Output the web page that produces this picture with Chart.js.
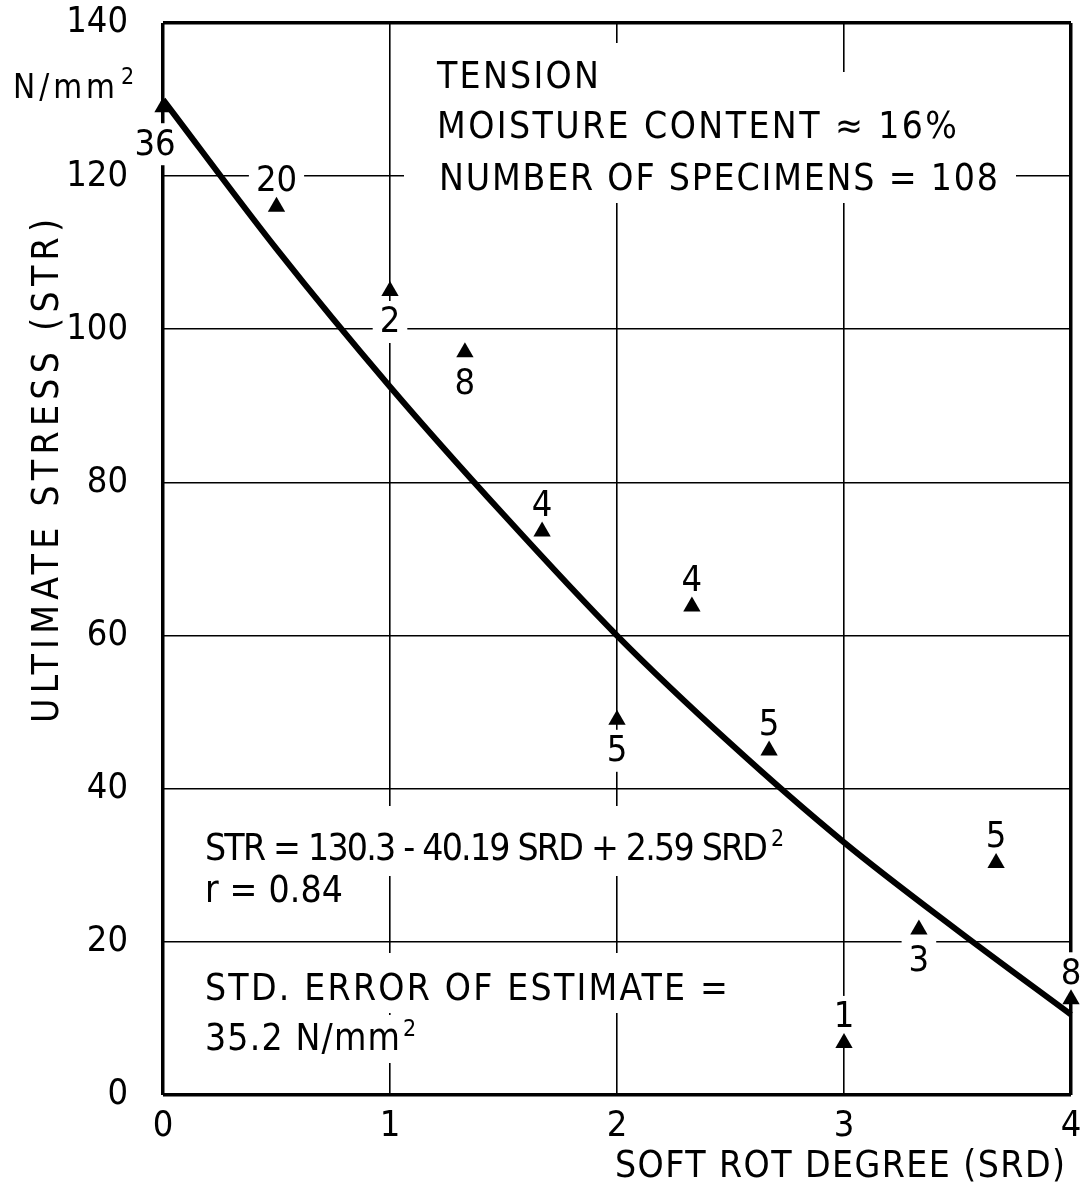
<!DOCTYPE html>
<html lang="en">
<head>
    <meta charset="UTF-8">
    <title>Soft rot - tension</title>
    <script src="https://cdn.jsdelivr.net/npm/chart.js"></script>
    <style>
        body { margin: 0; background: #fff; }
    </style>
</head>
<body>
    <canvas id="chart" width="1084" height="1188"></canvas>
    <script>
        // observed means (triangles)
        const srdObs = [0, 0.5, 1, 1.33, 1.67, 2, 2.33, 2.67, 3, 3.33, 3.67, 4];
        const strObs = [129, 116, 105, 97, 73.6, 49, 63.8, 45, 6.8, 21.6, 30.3, 12.5];
        const specimenCounts = ['36', '20', '2', '8', '4', '5', '4', '5', '1', '3', '5', '8'];
        // where the count sits relative to its triangle
        const countSide = ['belowLeft', 'above', 'below', 'below', 'above', 'below', 'above', 'above', 'above', 'below', 'above', 'above'];

        // fitted curve
        const srdFit = [0, 0.5, 1, 1.5, 2, 2.5, 3, 3.5, 4];
        const strFit = [130, 110.5, 92.5, 75.8, 60, 45.9, 33, 21.5, 10.5];

        const xTicks = [0, 1, 2, 3, 4];
        const yTicks = [0, 20, 40, 60, 80, 100, 120, 140];

        const noteText = [
            ['TENSION'],
            ['MOISTURE CONTENT \u2248 16%'],
            ['NUMBER OF SPECIMENS = 108'],
            ['STR = 130.3 - 40.19 SRD + 2.59 SRD', '2'],
            ['r = 0.84'],
            ['STD. ERROR OF ESTIMATE ='],
            ['35.2 N/mm', '2']
        ];

        const FONT = '"DejaVu Sans Condensed", "DejaVu Sans", sans-serif';

        // layout of the notes: text x, baseline, width, white box [x0, y0, x1, y1]
        const noteLayout = [
            { x: 437, base: 88, w: 162, box: [420, 43, 625, 100] },
            { x: 437, base: 138, w: 520, box: [420, 72, 975, 152] },
            { x: 439, base: 190, w: 559, box: [404, 152, 1016, 203] },
            { x: 205, base: 860, w: 563, box: [195, 806, 800, 876] },
            { x: 205, base: 902, w: 138, box: [195, 876, 355, 915] },
            { x: 205, base: 1000, w: 523, box: [195, 953, 740, 1013] },
            { x: 205, base: 1050, w: 195, box: [195, 1015, 430, 1063] }
        ];
        const sideOffset = { above: [0, -26], below: [0, 31], belowLeft: [-8, 37] };

        function spacedText(ctx, str, x, base, width) {
            ctx.letterSpacing = '0px';
            const w = ctx.measureText(str).width;
            const n = [...str].length;
            ctx.letterSpacing = (n > 1 ? (width - w) / (n - 1) : 0) + 'px';
            ctx.fillText(str, x, base);
            ctx.letterSpacing = '0px';
            return x + width;
        }

        const overlay = {
            id: 'overlay',
            beforeDatasetsDraw(chart) {
                const ctx = chart.ctx;
                const xs = chart.scales.x, ys = chart.scales.y;
                ctx.save();
                ctx.fillStyle = '#fff';
                noteLayout.forEach(n => ctx.fillRect(n.box[0], n.box[1], n.box[2] - n.box[0], n.box[3] - n.box[1]));

                // the notes
                ctx.fillStyle = '#000';
                ctx.textAlign = 'left';
                ctx.textBaseline = 'alphabetic';
                noteText.forEach((t, i) => {
                    const L = noteLayout[i];
                    ctx.font = '37px ' + FONT;
                    const end = spacedText(ctx, t[0], L.x, L.base, L.w);
                    if (t[1]) {
                        ctx.font = '23px ' + FONT;
                        ctx.fillText(t[1], end + 3, L.base - 14);
                    }
                });

                // specimen counts, knocking out the grid behind them
                ctx.font = '36px ' + FONT;
                ctx.textAlign = 'center';
                ctx.textBaseline = 'middle';
                specimenCounts.forEach((c, i) => {
                    const off = sideOffset[countSide[i]];
                    const px = xs.getPixelForValue(srdObs[i]) + off[0];
                    const py = ys.getPixelForValue(strObs[i]) + off[1];
                    const w = ctx.measureText(c).width + 14;
                    ctx.fillStyle = '#fff';
                    ctx.fillRect(px - w / 2, py - 21, w, 42);
                    ctx.fillStyle = '#000';
                    ctx.fillText(c, px, py + 1);
                });
                ctx.restore();
            },
            afterDraw(chart) {
                const ctx = chart.ctx;
                ctx.save();
                ctx.fillStyle = '#000';
                ctx.textAlign = 'left';
                ctx.textBaseline = 'alphabetic';
                // unit at top of y axis
                ctx.font = '33px ' + FONT;
                const e = spacedText(ctx, 'N/mm', 13, 98, 102);
                ctx.font = '23px ' + FONT;
                ctx.fillText('2', e + 6, 84);
                // x axis title
                ctx.font = '37px ' + FONT;
                spacedText(ctx, 'SOFT ROT DEGREE (SRD)', 615, 1177, 450);
                // y axis title
                ctx.translate(58, 723);
                ctx.rotate(-Math.PI / 2);
                spacedText(ctx, 'ULTIMATE STRESS (STR)', 0, 0, 504);
                ctx.restore();
            }
        };

        const edge = (v, lo, hi) => (v === lo || v === hi) ? 3.5 : 1.6;
        const noPad = s => { s.paddingTop = 0; s.paddingBottom = 0; s.paddingLeft = 0; s.paddingRight = 0; };

        new Chart(document.getElementById('chart').getContext('2d'), {
            type: 'scatter',
            data: {
                datasets: [{
                    label: 'fit',
                    data: srdFit.map((v, i) => ({ x: v, y: strFit[i] })),
                    showLine: true,
                    borderColor: '#000',
                    borderWidth: 6,
                    pointRadius: 0,
                    cubicInterpolationMode: 'monotone',
                    clip: false,
                    order: 2
                }, {
                    label: 'observed',
                    data: srdObs.map((v, i) => ({ x: v, y: strObs[i] })),
                    pointStyle: 'triangle',
                    pointRadius: 10,
                    backgroundColor: '#000',
                    borderColor: '#000',
                    borderWidth: 0,
                    clip: false,
                    order: 1
                }]
            },
            options: {
                responsive: false,
                animation: false,
                devicePixelRatio: 1,
                layout: { padding: { top: 23, right: 13, left: 0, bottom: 0 } },
                plugins: { legend: { display: false }, tooltip: { enabled: false } },
                scales: {
                    x: {
                        type: 'linear', min: 0, max: 4,
                        afterBuildTicks: s => { s.ticks = xTicks.map(v => ({ value: v })); },
                        afterFit: s => { s.height = 93; noPad(s); },
                        border: { display: false },
                        grid: { color: '#000', drawTicks: false, lineWidth: c => edge(c.tick.value, 0, 4) },
                        ticks: { color: '#000', font: { family: FONT, size: 36 }, padding: 10, maxRotation: 0 }
                    },
                    y: {
                        min: 0, max: 140,
                        afterBuildTicks: s => { s.ticks = yTicks.map(v => ({ value: v })); },
                        afterFit: s => { s.width = 163; noPad(s); },
                        border: { display: false },
                        grid: { color: '#000', drawTicks: false, lineWidth: c => edge(c.tick.value, 0, 140) },
                        ticks: { color: '#000', font: { family: FONT, size: 36 }, padding: 35 }
                    }
                }
            },
            plugins: [overlay]
        });
    </script>
</body>
</html>
